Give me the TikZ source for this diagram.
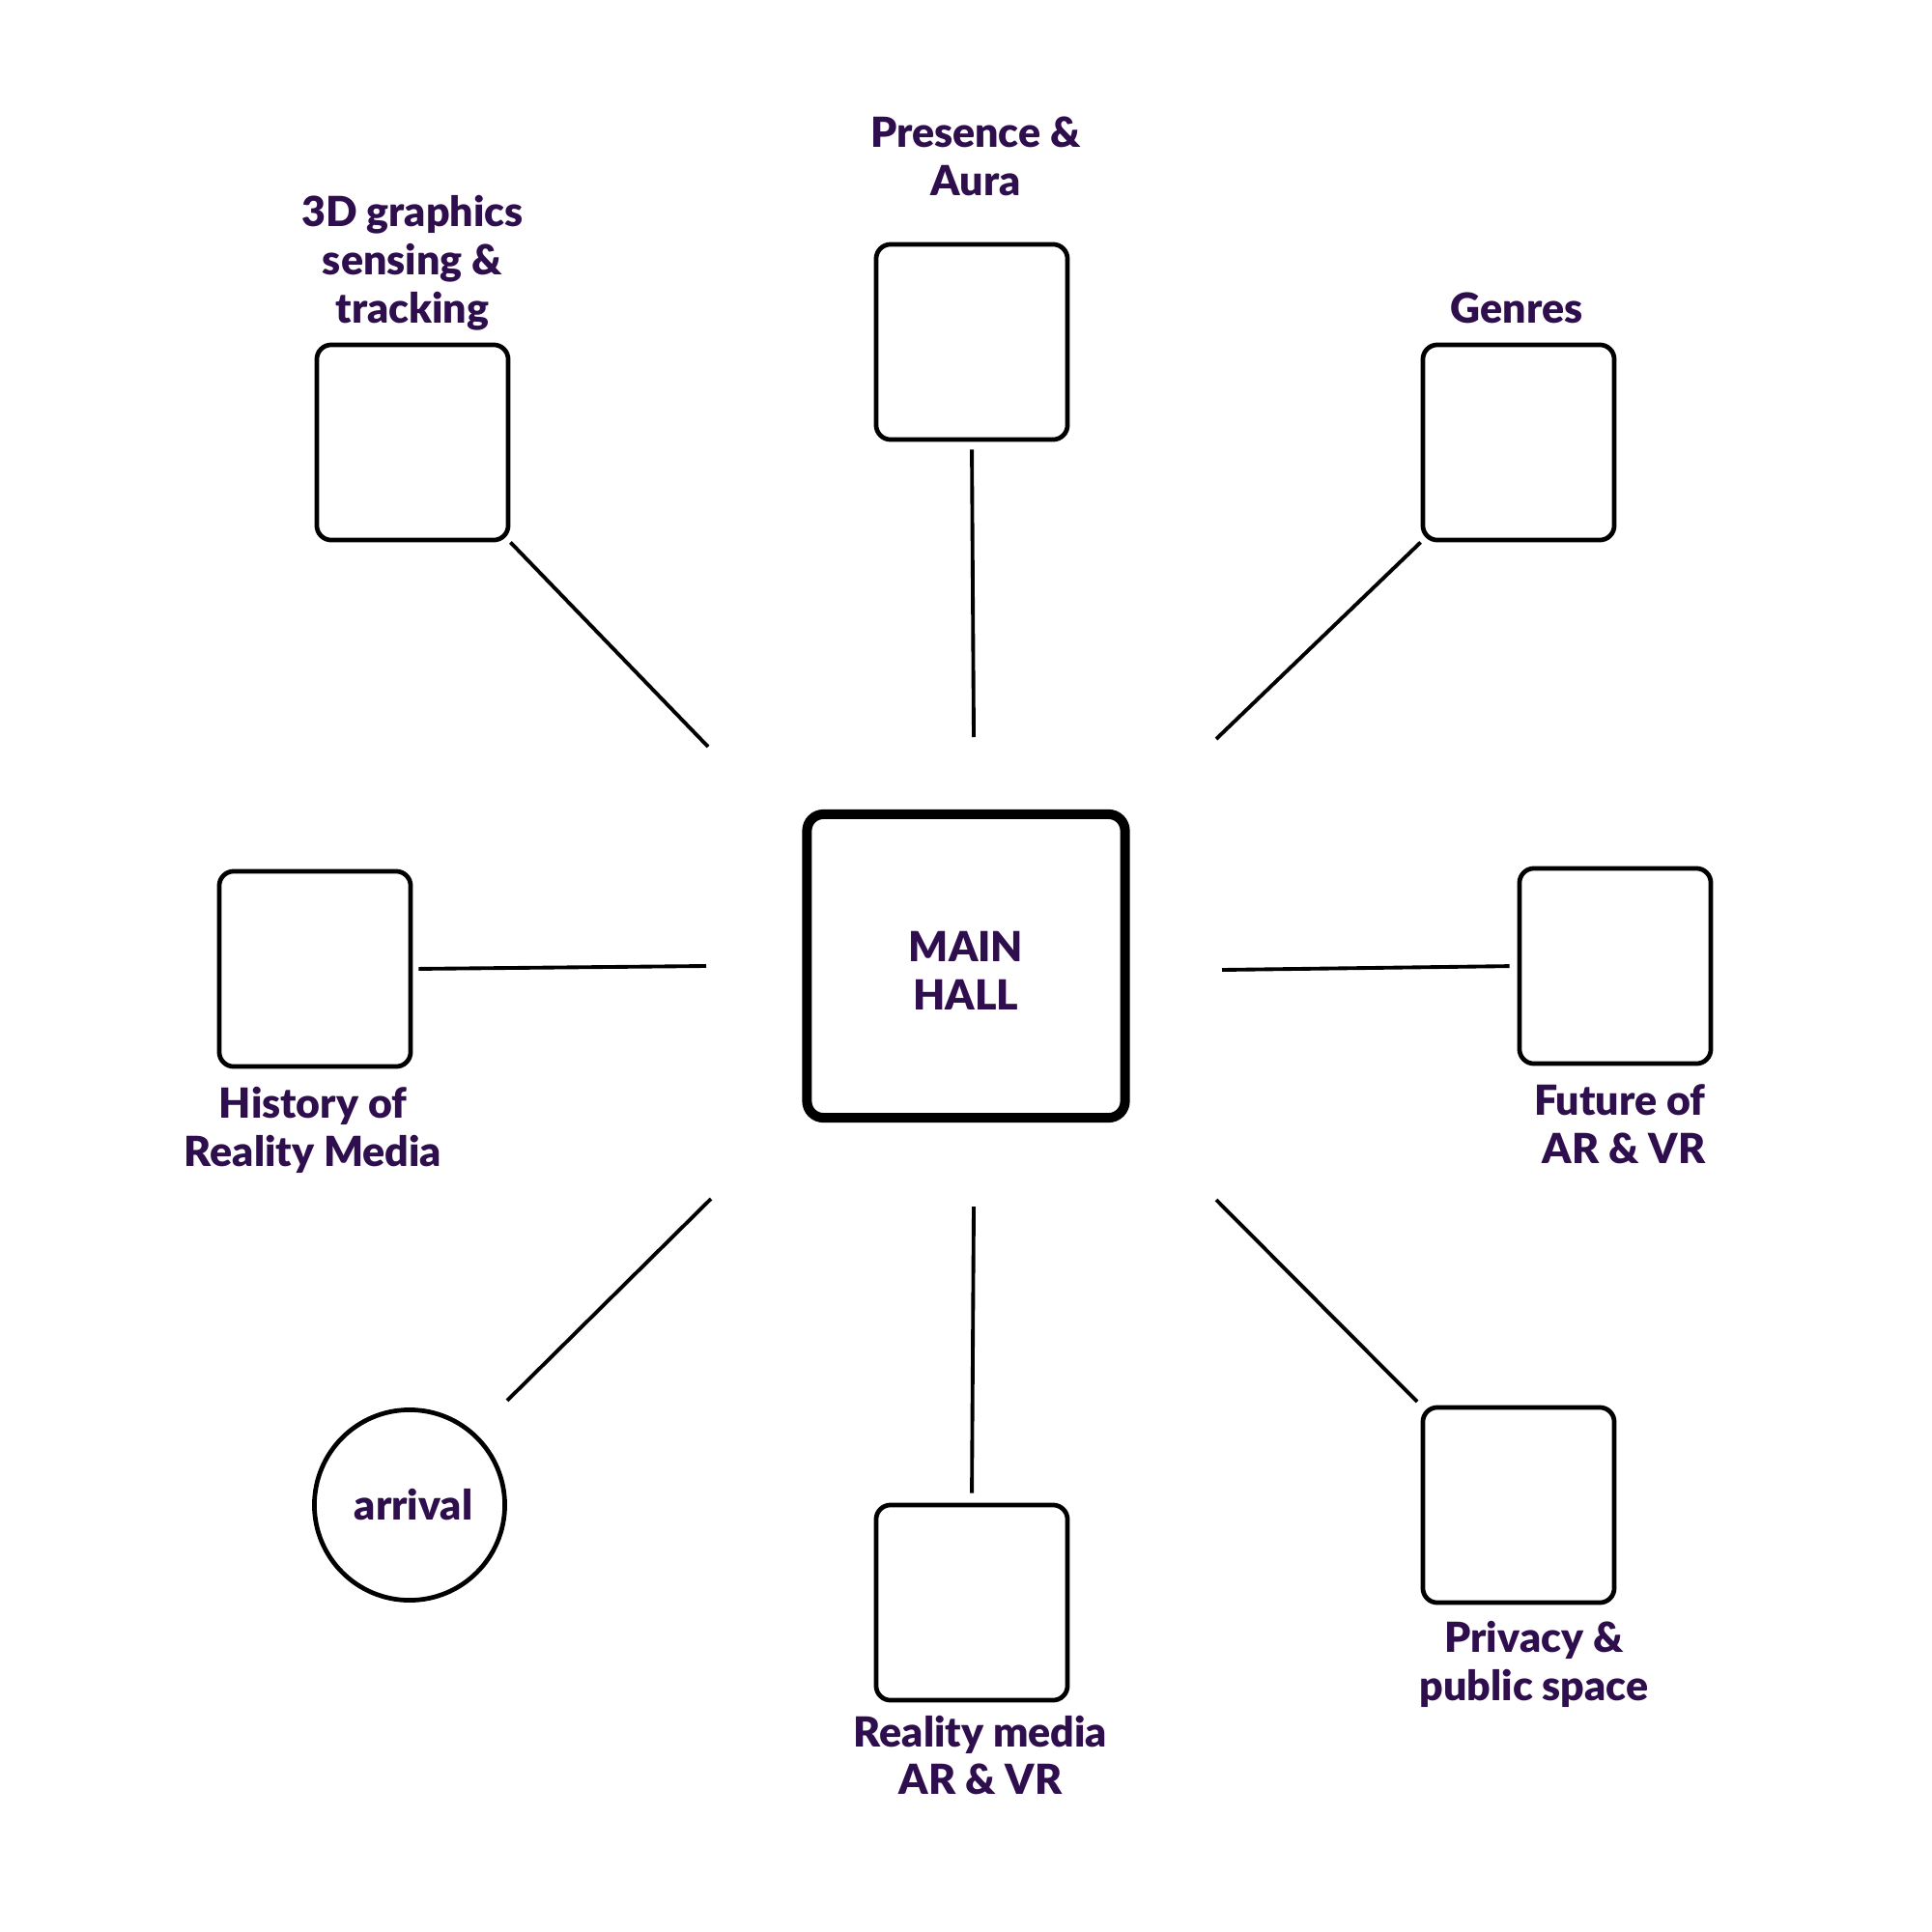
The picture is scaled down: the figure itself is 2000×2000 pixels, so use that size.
\documentclass[tikz,border=0pt]{standalone}
\usepackage{fontspec}
\setmainfont{Lato}[BoldFont={Lato Black}]
\definecolor{hallink}{RGB}{46,14,76}

\begin{document}
\begin{tikzpicture}[x=0.01cm, y=-0.01cm,
    room/.style={draw, line width=1.35pt, rounded corners=0.15cm, minimum width=1.98cm, minimum height=2.02cm, inner sep=0pt},
    hall/.style={draw, line width=2.85pt, rounded corners=0.17cm, minimum width=3.29cm, minimum height=3.14cm, text=hallink, font=\bfseries\fontsize{12.2}{14.2}\selectfont, align=center, text height=26.1pt},
    lbl/.style={text=hallink, font=\bfseries\fontsize{12.2}{14.2}\selectfont, align=center, inner sep=0pt},
    link/.style={line width=1.1pt}]
    \useasboundingbox (0,0) rectangle (2000,2000);

    % rooms
    \node[hall] (hall) at (1000,1000) {MAIN\\HALL};
    \node[room] (gfx) at (427,458) {};
    \node[room] (aura) at (1006,354) {};
    \node[room] (genres) at (1572,458) {};
    \node[room] (history) at (326,1003) {};
    \node[room] (future) at (1672,1000) {};
    \node[room] (media) at (1006,1659) {};
    \node[room] (privacy) at (1572,1558) {};
    \node[circle, draw, line width=1.35pt, minimum size=1.97cm, inner sep=0pt, text=hallink, font=\bfseries\fontsize{12.2}{14.2}\selectfont] (arrival) at (424,1558) {\hspace{0.08cm}arrival};

    % labels
    \node[lbl] (gfxlbl) at (427,272) {3D graphics\\sensing \&\\tracking};
    \node[lbl] (auralbl) at (1010,162) {Presence \&\\Aura};
    \node[lbl] (genreslbl) at (1570,319) {Genres};
    \node[lbl] (historylbl) at (324,1170) {History of\\Reality Media};
    \node[lbl, align=right, anchor=east] (futurelbl) at (1766,1164) {Future of\\AR \& VR};
    \node[lbl] (privacylbl) at (1588,1723) {Privacy \&\\public space};
    \node[lbl] (medialbl) at (1015,1817) {Reality media\\AR \& VR};

    % corridor ends near the hall
    \coordinate (gfxend) at (733,773);
    \coordinate (auraend) at (1008,763);
    \coordinate (genresend) at (1259,765);
    \coordinate (historyend) at (731,1000);
    \coordinate (futureend) at (1265,1004);
    \coordinate (arrivalend) at (736,1241);
    \coordinate (mediaend) at (1008,1249);
    \coordinate (privacyend) at (1259,1242);

    % corridors
    \draw[link] (gfx.south east) -- (gfxend);
    \draw[link, shorten <=0.08cm] (aura.south) -- (auraend);
    \draw[link] (genres.south west) -- (genresend);
    \draw[link, shorten <=0.06cm] (history.east) -- (historyend);
    \draw[link, shorten >=0.08cm] (futureend) -- (future.west);
    \draw[link, shorten <=0.47cm] (arrival.48) -- (arrivalend);
    \draw[link, shorten >=0.1cm] (mediaend) -- (media.north);
    \draw[link, shorten >=0.05cm] (privacyend) -- (privacy.north west);
\end{tikzpicture}
\end{document}
